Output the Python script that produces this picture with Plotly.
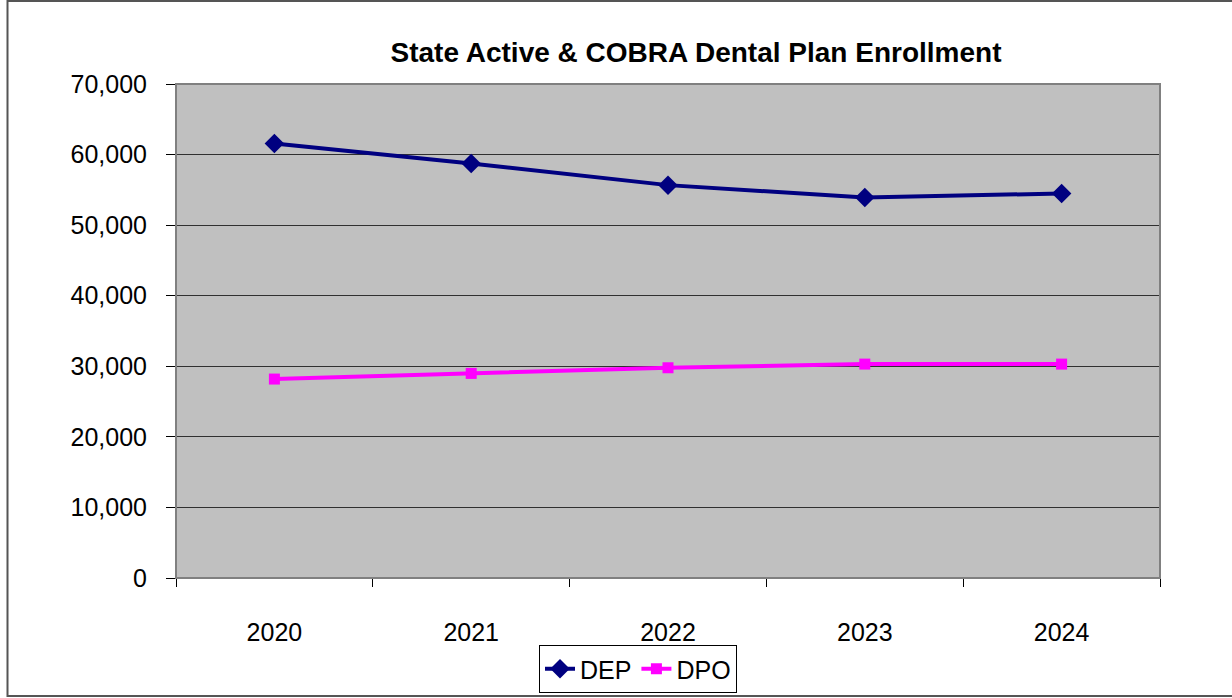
import plotly.graph_objects as go

years = ["2020", "2021", "2022", "2023", "2024"]
dep = [61570, 58740, 55670, 53920, 54490]
dpo = [28190, 28990, 29790, 30310, 30310]
y_ticks = [0, 10000, 20000, 30000, 40000, 50000, 60000, 70000]
title_text = "State Active & COBRA Dental Plan Enrollment"

W, H = 1232, 698
L, R, T, B = 176, 1160, 84, 578
pw, ph = R - L, B - T

def px_x(x):
    return (x - L) / pw

def px_y(y):
    return (B - y) / ph

fig = go.Figure()
fig.add_trace(go.Scatter(
    x=years, y=dep, name="DEP", mode="lines+markers",
    line=dict(color="#000080", width=4),
    marker=dict(symbol="diamond", size=15, color="#000080"),
))
fig.add_trace(go.Scatter(
    x=years, y=dpo, name="DPO", mode="lines+markers",
    line=dict(color="#FF00FF", width=4),
    marker=dict(symbol="square", size=11, color="#FF00FF"),
))

font_family = "Liberation Sans, Arial, sans-serif"

fig.update_layout(
    width=W, height=H,
    margin=dict(l=L, r=W - R, t=T, b=H - B, autoexpand=False),
    paper_bgcolor="white",
    plot_bgcolor="#C0C0C0",
    font=dict(family=font_family, size=25, color="black"),
    title=dict(
        text="<b>" + title_text + "</b>",
        font=dict(family=font_family, size=28, color="black"),
        x=696 / W, xanchor="center",
        y=1 - 52 / H, yanchor="middle",
    ),
    showlegend=True,
    legend=dict(
        orientation="h",
        x=px_x(539), xanchor="left",
        y=px_y(645), yanchor="top",
        bordercolor="black", borderwidth=1,
        bgcolor="white",
        font=dict(family=font_family, size=25),
        itemwidth=30,
        tracegroupgap=0,
    ),
    xaxis=dict(
        type="category",
        range=[-0.5, 4.5],
        tickson="boundaries",
        ticks="outside", ticklen=8, tickcolor="black", tickwidth=1,
        showline=True, linecolor="black", linewidth=1,
        showgrid=False, zeroline=False,
        ticklabelstandoff=32,
        tickfont=dict(size=25),
    ),
    yaxis=dict(
        range=[0, 70000],
        tickvals=y_ticks,
        tickformat=",",
        ticks="outside", ticklen=9, tickcolor="black", tickwidth=1,
        showline=True, linecolor="black", linewidth=1,
        showgrid=True, gridcolor="#303030", gridwidth=1,
        zeroline=False,
        ticklabelstandoff=14,
        tickfont=dict(size=25),
    ),
    shapes=[
        dict(type="rect", xref="paper", yref="paper", x0=0, x1=1, y0=0, y1=1,
             line=dict(color="#808080", width=2), layer="above"),
        dict(type="rect", xref="paper", yref="paper",
             x0=px_x(7.5), x1=px_x(1240), y0=px_y(696), y1=px_y(1),
             line=dict(color="#555555", width=2)),
    ],
)

fig.write_html("out.html")
